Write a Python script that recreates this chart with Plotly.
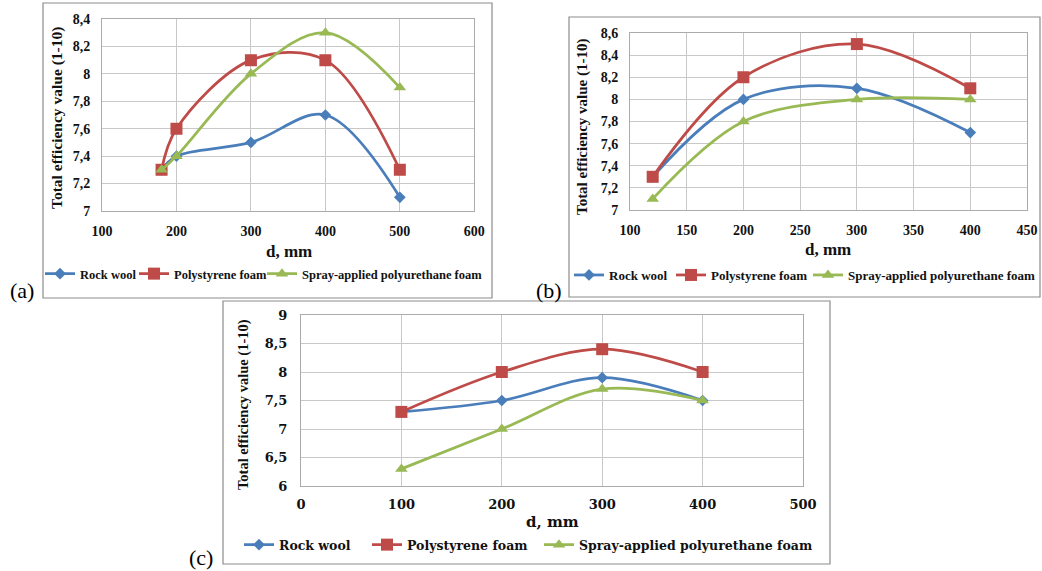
import plotly.graph_objects as go

series_names = ["Rock wool", "Polystyrene foam", "Spray-applied polyurethane foam"]
colors = ["#4A7EBB", "#BE4B48", "#98B954"]
symbols = ["diamond", "square", "triangle-up"]
msizes = [9, 12, 11]

# panel (a)
xa = [180, 200, 300, 400, 500]
a_rock = [7.3, 7.4, 7.5, 7.7, 7.1]
a_poly = [7.3, 7.6, 8.1, 8.1, 7.3]
a_spray = [7.3, 7.4, 8.0, 8.3, 7.9]

# panel (b)
xb = [120, 200, 300, 400]
b_rock = [7.3, 8.0, 8.1, 7.7]
b_poly = [7.3, 8.2, 8.5, 8.1]
b_spray = [7.1, 7.8, 8.0, 8.0]

# panel (c)
xc = [100, 200, 300, 400]
c_rock = [7.3, 7.5, 7.9, 7.5]
c_poly = [7.3, 8.0, 8.4, 8.0]
c_spray = [6.3, 7.0, 7.7, 7.5]

W, H = 1042, 571
def px(x):
    return x / W
def py(y):
    return 1 - y / H

SERIF = "Liberation Serif, Times New Roman, serif"
WIDE = "DejaVu Serif, serif"

panels = [
    dict(x=xa, ys=[a_rock, a_poly, a_spray], xr=[100, 600], xd=100, yr=[7, 8.4], yd=0.2,
         xdom=[px(102), px(474.3)], ydom=[py(211), py(19)], legend="legend",
         leg=(px(40), py(274)), lw=[49, 83, 190], lfs=12.5, lff=SERIF,
         tff=SERIF, tfs=14, xtl=7, ytl=8,
         yts=15.5, ytitle=(px(57), py(118)),
         xtf=SERIF, xts=17, xtitle=(px(289), py(251)),
         lab=("(a)", px(22), py(290)), box=(43, 3, 492, 298)),
    dict(x=xb, ys=[b_rock, b_poly, b_spray], xr=[100, 450], xd=50, yr=[7, 8.6], yd=0.2,
         xdom=[px(630), px(1027)], ydom=[py(210), py(33)], legend="legend2",
         leg=(px(569), py(275)), lw=[57, 92, 200], lfs=13, lff=SERIF,
         tff=SERIF, tfs=14, xtl=7, ytl=8,
         yts=15, ytitle=(px(582), py(127)),
         xtf=SERIF, xts=17, xtitle=(px(828), py(249)),
         lab=("(b)", px(549), py(290)), box=(569, 17, 1040, 297)),
    dict(x=xc, ys=[c_rock, c_poly, c_spray], xr=[0, 500], xd=100, yr=[6, 9], yd=0.5,
         xdom=[px(301), px(803)], ydom=[py(486), py(315)], legend="legend3",
         leg=(px(239), py(545)), lw=[83, 127, 250], lfs=12.5, lff=WIDE,
         tff=WIDE, tfs=13, xtl=6, ytl=10,
         yts=14.5, ytitle=(px(243), py(405)),
         xtf=WIDE, xts=15, xtitle=(px(552), py(522)),
         lab=("(c)", px(201), py(557)), box=(223, 301, 830, 564)),
]

fig = go.Figure()
annotations = []
shapes = []
layout = {}

for i, p in enumerate(panels):
    n = "" if i == 0 else str(i + 1)
    for j in range(3):
        fig.add_trace(go.Scatter(
            x=p["x"], y=p["ys"][j], name=series_names[j],
            mode="lines+markers",
            line=dict(color=colors[j], width=2.75, shape="spline", smoothing=1.0),
            marker=dict(symbol=symbols[j], size=msizes[j], color=colors[j]),
            xaxis="x" + n, yaxis="y" + n, legend=p["legend"],
            legendwidth=p["lw"][j],
        ))
    layout["xaxis" + n] = dict(
        domain=p["xdom"], range=p["xr"], dtick=p["xd"], tick0=0, anchor="y" + n,
        showgrid=True, gridcolor="#C8C8C8", gridwidth=1,
        showline=True, linecolor="#ABABAB", mirror=True, zeroline=False,
        ticks="outside", ticklen=p["xtl"], tickcolor="rgba(0,0,0,0)",
        tickfont=dict(family=p["tff"], size=p["tfs"], color="#111", weight="bold"),
        fixedrange=True, automargin=False,
    )
    layout["yaxis" + n] = dict(
        domain=p["ydom"], range=p["yr"], dtick=p["yd"], tick0=0, anchor="x" + n,
        showgrid=True, gridcolor="#C8C8C8", gridwidth=1,
        showline=True, linecolor="#ABABAB", mirror=True, zeroline=False,
        ticks="outside", ticklen=p["ytl"], tickcolor="rgba(0,0,0,0)",
        tickfont=dict(family=p["tff"], size=p["tfs"], color="#111", weight="bold"),
        fixedrange=True, automargin=False,
    )
    layout[p["legend"]] = dict(
        x=p["leg"][0], y=p["leg"][1], xanchor="left", yanchor="middle",
        orientation="h", bgcolor="rgba(0,0,0,0)",
        font=dict(family=p["lff"], size=p["lfs"], color="#111", weight="bold"),
        itemwidth=30, tracegroupgap=0, entrywidthmode="pixels",
    )
    annotations.append(dict(
        text="<b>Total efficiency value (1-10)</b>", x=p["ytitle"][0], y=p["ytitle"][1],
        xref="paper", yref="paper", textangle=-90, showarrow=False,
        font=dict(family=SERIF, size=p["yts"], color="#111"),
        xanchor="center", yanchor="middle"))
    annotations.append(dict(
        text="<b>d, mm</b>", x=p["xtitle"][0], y=p["xtitle"][1],
        xref="paper", yref="paper", showarrow=False,
        font=dict(family=p["xtf"], size=p["xts"], color="#111"),
        xanchor="center", yanchor="middle"))
    annotations.append(dict(
        text=p["lab"][0], x=p["lab"][1], y=p["lab"][2],
        xref="paper", yref="paper", showarrow=False,
        font=dict(family=SERIF, size=22, color="#000"),
        xanchor="center", yanchor="middle"))
    x0, y0, x1, y1 = p["box"]
    shapes.append(dict(type="rect", xref="paper", yref="paper",
                       x0=px(x0), x1=px(x1), y0=py(y1), y1=py(y0),
                       line=dict(color="#8C8C8C", width=1.2), layer="below"))

fig.update_layout(**layout)
fig.update_layout(
    width=W, height=H, margin=dict(l=0, r=0, t=0, b=0, autoexpand=False),
    paper_bgcolor="white", plot_bgcolor="white",
    separators=", ",
    annotations=annotations, shapes=shapes,
    font=dict(family=SERIF),
)

fig.write_html("out.html", config={"displayModeBar": False},
               post_script="document.body.style.margin='0';")
